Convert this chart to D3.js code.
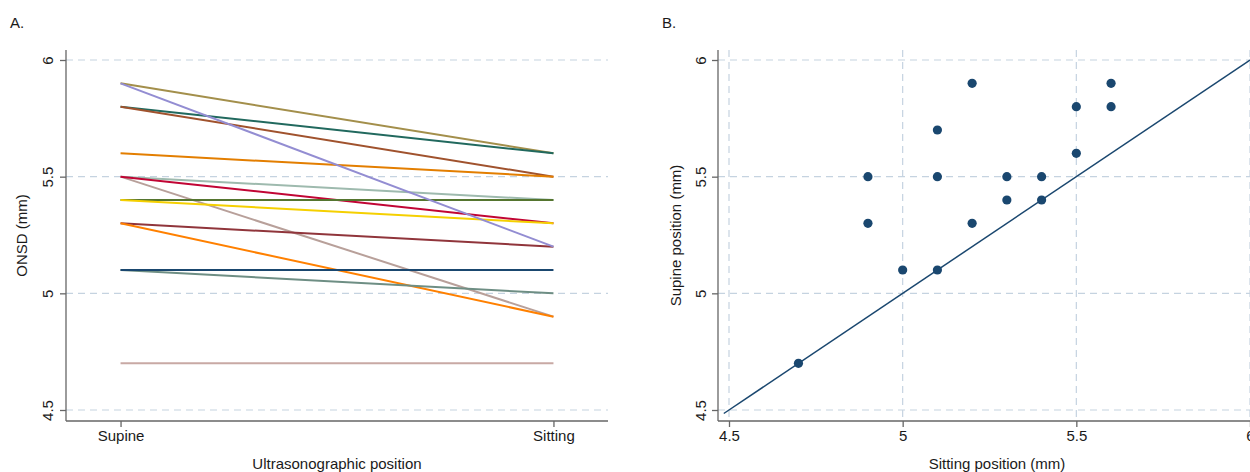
<!DOCTYPE html>
<html lang="en">
<head>
<meta charset="UTF-8">
<title>ONSD supine vs sitting</title>
<script src="https://d3js.org/d3.v7.min.js"></script>
<style>
  body { margin: 0; background: #fff; }
  svg { display: block; font-family: "Liberation Sans", Arial, Helvetica, sans-serif; }
  .axis path, .axis line { stroke: #666; stroke-width: 1.3; }
  .axis text { font-size: 15px; fill: #1a1a1a; }
  .grid { stroke: #c5d3e0; stroke-width: 1.2; stroke-dasharray: 7,5; }
  .title { font-size: 15px; fill: #1a1a1a; }
</style>
</head>
<body>
<svg width="1250" height="472"></svg>
<script>
// panel A: paired lines, supine -> sitting (mm)
const positions = ["Supine", "Sitting"];
const supineA  = [5.9, 5.8, 5.8, 5.6, 5.5, 5.5, 5.5, 5.4, 5.4, 5.3, 5.3, 5.1, 5.1, 4.7, 5.9];
const sittingA = [5.6, 5.6, 5.5, 5.5, 5.4, 4.9, 5.3, 5.4, 5.3, 5.2, 4.9, 5.0, 5.1, 4.7, 5.2];
const colorsA  = ["#a38f4b", "#21695e", "#a0522d", "#e37e00", "#9ebaae", "#b8a09a", "#c10534",
                  "#55752f", "#f5d000", "#90353b", "#ff8000", "#6e8e84", "#1a476f", "#c8a9a4", "#938dd2"];

// panel B: scatter, sitting (x) vs supine (y)
const sittingB = [4.7, 4.9, 4.9, 5.0, 5.1, 5.1, 5.1, 5.2, 5.2, 5.3, 5.3, 5.4, 5.4, 5.5, 5.5, 5.6, 5.6];
const supineB  = [4.7, 5.5, 5.3, 5.1, 5.7, 5.5, 5.1, 5.9, 5.3, 5.5, 5.4, 5.5, 5.4, 5.8, 5.6, 5.9, 5.8];
const equalityLine = [4.485, 6];

const yTicks = [4.5, 5, 5.5, 6];
const xTicksB = [4.5, 5, 5.5, 6];

const svg = d3.select("svg");
const plotTop = 50, plotBottom = 421;

const y = d3.scaleLinear().domain([4.5, 6]).range([410, 60]);

// ---------- A ----------
const leftA = 66, rightA = 608;
const xA = d3.scalePoint().domain(positions).range([leftA, rightA]).padding(0.126);
const gA = svg.append("g");

gA.selectAll(".grid").data(yTicks).join("line")
  .attr("class", "grid")
  .attr("x1", leftA).attr("x2", rightA)
  .attr("y1", d => y(d)).attr("y2", d => y(d));

const pairs = supineA.map((s, i) => [s, sittingA[i], colorsA[i]]);
gA.selectAll(".pair").data(pairs).join("line")
  .attr("class", "pair")
  .attr("x1", xA("Supine")).attr("x2", xA("Sitting"))
  .attr("y1", d => y(d[0])).attr("y2", d => y(d[1]))
  .attr("stroke", d => d[2]).attr("stroke-width", 2);

const yAxisA = gA.append("g").attr("class", "axis")
  .attr("transform", `translate(${leftA},0)`)
  .call(d3.axisLeft(y).tickValues(yTicks).tickFormat(d3.format("")).tickSize(6).tickSizeOuter(0));
yAxisA.select(".domain").attr("d", `M0,${plotTop}V${plotBottom}`);
yAxisA.selectAll(".tick text")
  .attr("transform", "rotate(-90)").attr("x", 0).attr("y", -18)
  .attr("dy", "0.35em").attr("text-anchor", "middle");

const xAxisA = gA.append("g").attr("class", "axis")
  .attr("transform", `translate(0,${plotBottom})`)
  .call(d3.axisBottom(xA).tickSize(6).tickSizeOuter(0));
xAxisA.select(".domain").attr("d", `M${leftA},0H${rightA}`);
xAxisA.selectAll(".tick text").attr("y", 9).attr("dy", "0.71em");

gA.append("text").attr("class", "title")
  .attr("x", (leftA + rightA) / 2).attr("y", 469).attr("text-anchor", "middle")
  .text("Ultrasonographic position");
gA.append("text").attr("class", "title")
  .attr("transform", `translate(27,${(plotTop + plotBottom) / 2}) rotate(-90)`)
  .attr("text-anchor", "middle")
  .text("ONSD (mm)");
gA.append("text").attr("class", "title").attr("x", 10).attr("y", 28).text("A.");

// ---------- B ----------
const leftB = 718;
const xB = d3.scaleLinear().domain([4.5, 6]).range([729, 1250]);
const rightB = xB(6) + 26;
const gB = svg.append("g");

gB.selectAll(".hgrid").data(yTicks).join("line")
  .attr("class", "grid")
  .attr("x1", leftB).attr("x2", rightB)
  .attr("y1", d => y(d)).attr("y2", d => y(d));
gB.selectAll(".vgrid").data(xTicksB).join("line")
  .attr("class", "grid")
  .attr("y1", plotTop).attr("y2", plotBottom)
  .attr("x1", d => xB(d)).attr("x2", d => xB(d));

gB.append("line")
  .attr("x1", xB(equalityLine[0])).attr("y1", y(equalityLine[0]))
  .attr("x2", xB(equalityLine[1])).attr("y2", y(equalityLine[1]))
  .attr("stroke", "#1a476f").attr("stroke-width", 1.5);

gB.selectAll(".pt").data(sittingB.map((s, i) => [s, supineB[i]])).join("circle")
  .attr("class", "pt")
  .attr("cx", d => xB(d[0])).attr("cy", d => y(d[1]))
  .attr("r", 4.6).attr("fill", "#1a476f");

const yAxisB = gB.append("g").attr("class", "axis")
  .attr("transform", `translate(${leftB},0)`)
  .call(d3.axisLeft(y).tickValues(yTicks).tickFormat(d3.format("")).tickSize(6).tickSizeOuter(0));
yAxisB.select(".domain").attr("d", `M0,${plotTop}V${plotBottom}`);
yAxisB.selectAll(".tick text")
  .attr("transform", "rotate(-90)").attr("x", 0).attr("y", -17)
  .attr("dy", "0.35em").attr("text-anchor", "middle");

const xAxisB = gB.append("g").attr("class", "axis")
  .attr("transform", `translate(0,${plotBottom})`)
  .call(d3.axisBottom(xB).tickValues(xTicksB).tickFormat(d3.format("")).tickSize(6).tickSizeOuter(0));
xAxisB.select(".domain").attr("d", `M${leftB},0H${rightB}`);
xAxisB.selectAll(".tick text").attr("y", 9).attr("dy", "0.71em");

gB.append("text").attr("class", "title")
  .attr("x", (leftB + rightB) / 2).attr("y", 469).attr("text-anchor", "middle")
  .text("Sitting position (mm)");
gB.append("text").attr("class", "title")
  .attr("transform", `translate(681,${(plotTop + plotBottom) / 2}) rotate(-90)`)
  .attr("text-anchor", "middle")
  .text("Supine position (mm)");
gB.append("text").attr("class", "title").attr("x", 662).attr("y", 28).text("B.");
</script>
</body>
</html>
